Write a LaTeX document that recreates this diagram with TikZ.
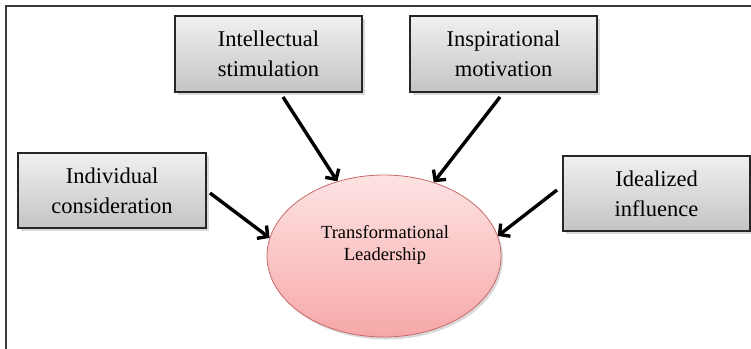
\documentclass[tikz,border=0pt]{standalone}
\usepackage{fontspec}
\setmainfont{Liberation Serif}
\usetikzlibrary{arrows.meta,shadows,shapes.geometric}
\definecolor{boxtop}{HTML}{F0F0F0}
\definecolor{boxbot}{HTML}{C4C4C4}
\definecolor{elltop}{HTML}{FDE3E3}
\definecolor{ellbot}{HTML}{F7A8A8}
\definecolor{ellline}{HTML}{C96A6A}
\definecolor{framecol}{HTML}{3A3A3A}
\begin{document}
\begin{tikzpicture}[x=1pt,y=-1pt,
  dimbox/.style={draw=black!85, line width=1.4pt, top color=boxtop, bottom color=boxbot,
    minimum width=187pt, minimum height=76pt, inner sep=0pt, align=center,
    font=\fontsize{22.5}{30}\selectfont,
    drop shadow={opacity=0.3, shadow xshift=2.5pt, shadow yshift=-2.5pt}},
  core/.style={ellipse, draw=ellline, line width=0.8pt, top color=elltop, bottom color=ellbot,
    minimum width=234pt, minimum height=162pt, inner sep=0pt,
    drop shadow={opacity=0.3, shadow xshift=2pt, shadow yshift=-2.5pt}},
  coretext/.style={font=\fontsize{18.5}{22}\selectfont, align=center, inner sep=0pt},
  arr/.style={line width=3.4pt, -{Straight Barb[length=7.5pt,width=16pt]}},
  framel/.style={line width=2pt, draw=framecol}
]
\useasboundingbox (0,0) rectangle (751,348);
\draw[framel] (6,349) -- (6,6) -- (752,6);

\node[dimbox] (intel) at (268.5,54) {Intellectual\\stimulation};
\node[dimbox] (inspir) at (503.5,54) {Inspirational\\motivation};
\node[dimbox, minimum width=188pt, minimum height=75pt] (indiv) at (112,190.5) {Individual\\consideration};
\node[dimbox, minimum width=187pt, minimum height=75pt] (ideal) at (656.5,193.5) {Idealized\\influence};

\node[core] (tl) at (384,256) {};
\node[coretext] (tltxt) at (385,245) {Transformational\\Leadership};

\coordinate (sIndiv) at (210,193);
\coordinate (sIntel) at (283,97);
\coordinate (sInspir) at (500,97);
\coordinate (sIdeal) at (557,190);

\draw[arr] (sIndiv) -- (tl.171);
\draw[arr] (sIntel) -- (tl.122);
\draw[arr] (sInspir) -- (tl.56);
\draw[arr] (sIdeal) -- (tl.10);
\end{tikzpicture}
\end{document}
